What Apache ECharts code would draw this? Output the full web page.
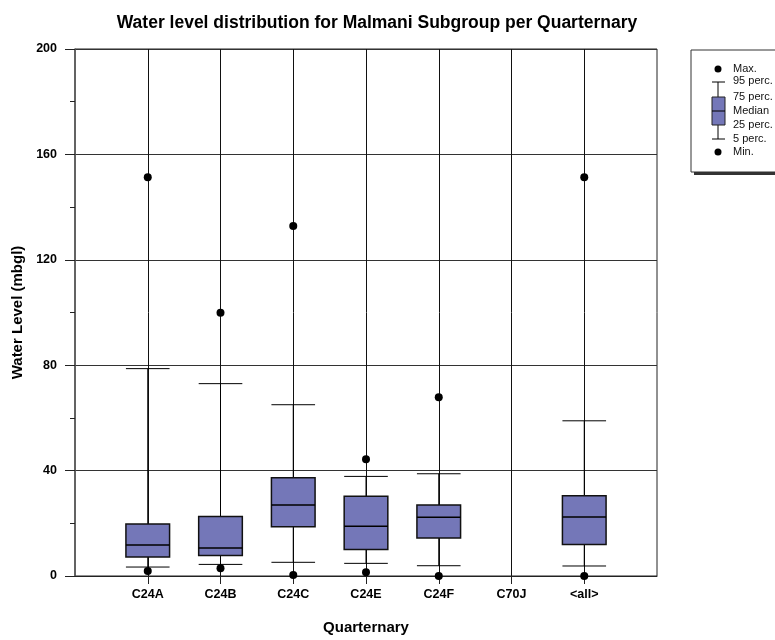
<!DOCTYPE html>
<html>
<head>
<meta charset="utf-8">
<script src="https://cdn.jsdelivr.net/npm/echarts@6/dist/echarts.min.js"></script>
<style>
html, body { margin: 0; padding: 0; background: #fff; }
#main { width: 775px; height: 640px; }
</style>
</head>
<body>
<div id="main"></div>
<script>
// categories (first and last slots are empty padding on the axis)
var categories = ['', 'C24A', 'C24B', 'C24C', 'C24E', 'C24F', 'C70J', '<all>', ''];
// statistics per category, null = no data
var minVals = [null, 1.9, 2.9, 0.4, 1.4, 0.0, null, 0.0, null];
var p5Vals  = [null, 3.4, 4.4, 5.2, 4.8, 3.9, null, 3.8, null];
var q1Vals  = [null, 7.2, 7.8, 18.7, 10.1, 14.4, null, 12.0, null];
var medVals = [null, 11.8, 10.6, 26.9, 18.9, 22.3, null, 22.4, null];
var q3Vals  = [null, 19.7, 22.6, 37.3, 30.3, 26.9, null, 30.5, null];
var p95Vals = [null, 78.7, 73.0, 65.0, 37.8, 38.8, null, 58.9, null];
var maxVals = [null, 151.3, 99.9, 132.8, 44.3, 67.8, null, 151.3, null];
var yTicks = [0, 40, 80, 120, 160, 200];

var boxFill = '#7477b8';

var boxData = [];
var dotData = [];
for (let i = 0; i < categories.length; i++) {
    if (q1Vals[i] != null) {
        boxData.push([i, p5Vals[i], q1Vals[i], medVals[i], q3Vals[i], p95Vals[i]]);
    }
    if (minVals[i] != null) dotData.push([i, minVals[i]]);
    if (maxVals[i] != null) dotData.push([i, maxVals[i]]);
}

// box: 5 perc. / 25 / median / 75 / 95 perc.
function renderBox(params, api) {
    var x = api.value(0);
    var pLow = api.coord([x, api.value(1)]);
    var pQ1 = api.coord([x, api.value(2)]);
    var pMed = api.coord([x, api.value(3)]);
    var pQ3 = api.coord([x, api.value(4)]);
    var pHigh = api.coord([x, api.value(5)]);
    var hw = api.size([1, 0])[0] * 0.3;
    var cx = pMed[0];
    var line = { stroke: '#000', lineWidth: 1 };
    return {
        type: 'group',
        children: [
            { type: 'line', shape: { x1: cx, y1: pLow[1], x2: cx, y2: pHigh[1] }, style: line },
            { type: 'line', shape: { x1: cx - hw, y1: pLow[1], x2: cx + hw, y2: pLow[1] }, style: line },
            { type: 'line', shape: { x1: cx - hw, y1: pHigh[1], x2: cx + hw, y2: pHigh[1] }, style: line },
            { type: 'rect', shape: { x: cx - hw, y: pQ3[1], width: hw * 2, height: pQ1[1] - pQ3[1] },
              style: { fill: boxFill, stroke: '#111', lineWidth: 1.5 } },
            { type: 'line', shape: { x1: cx - hw, y1: pMed[1], x2: cx + hw, y2: pMed[1] },
              style: { stroke: '#000', lineWidth: 1.5 } }
        ]
    };
}

var font = 'Liberation Sans, Arial, sans-serif';
var showMid = function (index) { return index > 0 && index < categories.length - 1; };

var chart = echarts.init(document.getElementById('main'));

var legendFont = '11px ' + font;

var option = {
    animation: false,
    title: {
        text: 'Water level distribution for Malmani Subgroup per Quarternary',
        left: 372,
        top: 9,
        textAlign: 'center',
        textStyle: { fontFamily: font, fontSize: 17.5, fontWeight: 'bold', color: '#000' }
    },
    grid: {
        left: 75, right: 118, top: 49, bottom: 62,
        show: true, borderColor: '#222', borderWidth: 1
    },
    xAxis: {
        type: 'category',
        data: categories,
        boundaryGap: false,
        name: 'Quarternary',
        nameLocation: 'middle',
        nameGap: 44,
        nameTextStyle: { fontFamily: font, fontSize: 15, fontWeight: 'bold', color: '#000' },
        axisLine: { lineStyle: { color: '#222', width: 1 } },
        axisTick: { show: true, length: 8, interval: showMid, lineStyle: { color: '#222' } },
        axisLabel: { interval: 0, margin: 12, fontFamily: font, fontSize: 12.5, fontWeight: 'bold', color: '#000' },
        splitLine: { show: true, interval: showMid, lineStyle: { color: '#111', width: 1 } }
    },
    yAxis: {
        type: 'value',
        min: 0,
        max: 200,
        interval: 40,
        name: 'Water Level (mbgl)',
        nameLocation: 'middle',
        nameGap: 48,
        nameTextStyle: { fontFamily: font, fontSize: 15, fontWeight: 'bold', color: '#000' },
        axisLine: { show: true, lineStyle: { color: '#555', width: 1.5 } },
        axisTick: { show: true, length: 10, lineStyle: { color: '#222' } },
        minorTick: { show: true, splitNumber: 2, length: 5, lineStyle: { color: '#222' } },
        axisLabel: {
            margin: 18, fontFamily: font, fontSize: 12.5, fontWeight: 'bold', color: '#000',
            formatter: function (v) { return yTicks.indexOf(v) >= 0 ? String(v) : ''; }
        },
        splitLine: { show: true, lineStyle: { color: '#333', width: 1 } }
    },
    series: [
        {
            type: 'custom',
            renderItem: renderBox,
            data: boxData,
            z: 3
        },
        {
            type: 'scatter',
            data: dotData,
            symbol: 'circle',
            symbolSize: 8,
            itemStyle: { color: '#000', opacity: 1 },
            z: 4
        }
    ],
    graphic: [
        // legend box with shadow
        { type: 'rect', shape: { x: 694, y: 53, width: 100, height: 122 }, style: { fill: '#333' }, z: 10 },
        { type: 'rect', shape: { x: 691, y: 50, width: 100, height: 122 }, style: { fill: '#fff', stroke: '#333', lineWidth: 1 }, z: 11 },
        { type: 'circle', shape: { cx: 718, cy: 69, r: 3.5 }, style: { fill: '#000' }, z: 12 },
        { type: 'circle', shape: { cx: 718, cy: 152, r: 3.5 }, style: { fill: '#000' }, z: 12 },
        { type: 'line', shape: { x1: 718, y1: 82, x2: 718, y2: 139 }, style: { stroke: '#000', lineWidth: 1 }, z: 12 },
        { type: 'line', shape: { x1: 712, y1: 82, x2: 725, y2: 82 }, style: { stroke: '#000', lineWidth: 1 }, z: 12 },
        { type: 'line', shape: { x1: 712, y1: 139, x2: 725, y2: 139 }, style: { stroke: '#000', lineWidth: 1 }, z: 12 },
        { type: 'rect', shape: { x: 712, y: 97, width: 13, height: 28 }, style: { fill: boxFill, stroke: '#222', lineWidth: 1 }, z: 12 },
        { type: 'line', shape: { x1: 712, y1: 111, x2: 725, y2: 111 }, style: { stroke: '#000', lineWidth: 1 }, z: 13 },
        { type: 'text', x: 733, y: 69, style: { text: 'Max.', font: legendFont, fill: '#111', verticalAlign: 'middle' }, z: 12 },
        { type: 'text', x: 733, y: 81, style: { text: '95 perc.', font: legendFont, fill: '#111', verticalAlign: 'middle' }, z: 12 },
        { type: 'text', x: 733, y: 97, style: { text: '75 perc.', font: legendFont, fill: '#111', verticalAlign: 'middle' }, z: 12 },
        { type: 'text', x: 733, y: 111, style: { text: 'Median', font: legendFont, fill: '#111', verticalAlign: 'middle' }, z: 12 },
        { type: 'text', x: 733, y: 125, style: { text: '25 perc.', font: legendFont, fill: '#111', verticalAlign: 'middle' }, z: 12 },
        { type: 'text', x: 733, y: 139, style: { text: '5 perc.', font: legendFont, fill: '#111', verticalAlign: 'middle' }, z: 12 },
        { type: 'text', x: 733, y: 152, style: { text: 'Min.', font: legendFont, fill: '#111', verticalAlign: 'middle' }, z: 12 }
    ]
};

chart.setOption(option);
</script>
</body>
</html>
